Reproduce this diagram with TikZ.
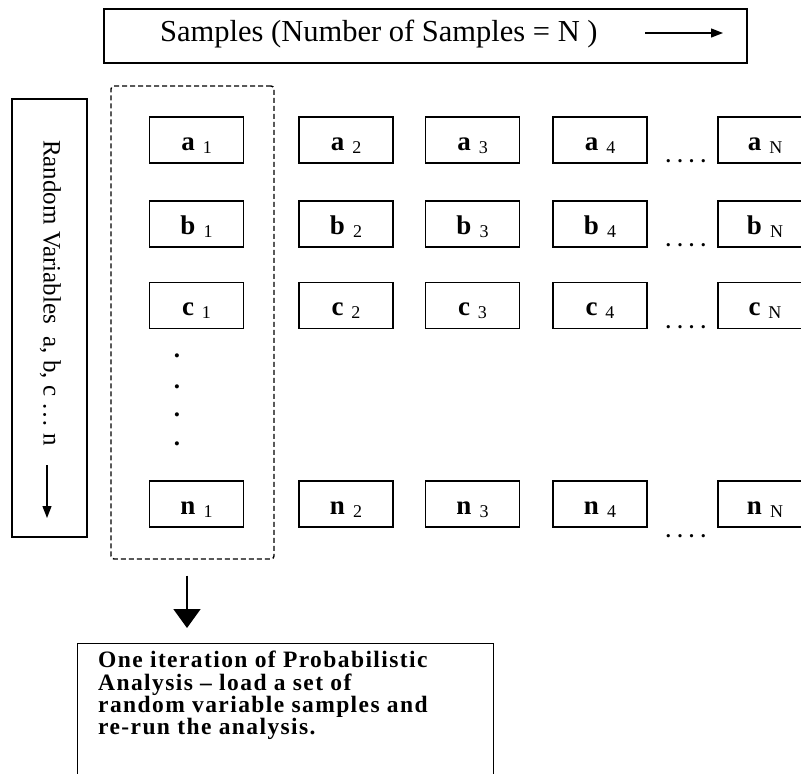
\documentclass[tikz,border=0pt]{standalone}
\usepackage{fontspec}
\setmainfont{Liberation Serif}
\usetikzlibrary{arrows.meta,positioning}

% sample label: bold letter with a small index beside it
\newcommand{\smp}[2]{\textbf{#1}\hspace{8pt}\raisebox{-3pt}{\fontsize{18}{18}\selectfont #2}}

\begin{document}
\begin{tikzpicture}[x=1pt, y=-1pt,
    cell/.style={draw, line width=1.4pt, minimum width=94pt, minimum height=46pt, inner sep=0pt, text height=20pt, text depth=0pt, font=\fontsize{27}{27}\selectfont},
    hdots/.style={anchor=base west, inner sep=0pt, font=\fontsize{20}{20}\selectfont\bfseries},
    vdot/.style={anchor=base, inner sep=0pt, font=\fontsize{25}{25}\selectfont\bfseries},
    plainbox/.style={draw, line width=1.4pt, inner sep=0pt},
    thinarrow/.style={-{Triangle[length=12pt, width=9pt]}, line width=1.3pt},
    bigarrow/.style={-{Triangle[length=19pt, width=27pt]}, line width=1.8pt}]

    \useasboundingbox (0,0) rectangle (801,774);
    \clip (0,0) rectangle (801,774);

    % title bar
    \node (head) [plainbox, minimum width=643pt, minimum height=54pt] at (425.5,36) {};
    \node (headtext) [anchor=base west, inner sep=0pt, font=\fontsize{30.5}{30}\selectfont] at (160,41) {Samples (Number of Samples = N )};
    \coordinate (hfrom) at (645,33);
    \coordinate (hto) at (723,33);
    \draw[thinarrow] (hfrom) -- (hto);

    % side bar
    \node (side) [plainbox, minimum width=75pt, minimum height=438pt] at (49.5,318) {};
    \node (sidetext) [rotate=-90, anchor=mid west, inner sep=0pt, font=\fontsize{25}{25}\selectfont] at (46,140) {Random Variables\ \ a, b, c … n};
    \coordinate (sfrom) at (47,465);
    \coordinate (sto) at (47,518);
    \draw[thinarrow] (sfrom) -- (sto);

    % one iteration = first column
    \node (iter) [draw, dash pattern=on 5pt off 3pt, rounded corners=3pt, line width=1.4pt, minimum width=163pt, minimum height=473pt] at (192.5,322.5) {};

    \node (a1) [cell] at (196.5,140) {\smp{a}{1}};
    \node (a2) [cell] at (346,140) {\smp{a}{2}};
    \node (a3) [cell] at (472.5,140) {\smp{a}{3}};
    \node (a4) [cell] at (600,140) {\smp{a}{4}};
    \node (aN) [cell] at (765,140) {\smp{a}{N}};
    \node (dotsa) [hdots] at ([xshift=18pt, yshift=1pt]a4.south east) {. . . .};

    \node (b1) [cell] at (196.5,224) {\smp{b}{1}};
    \node (b2) [cell] at (346,224) {\smp{b}{2}};
    \node (b3) [cell] at (472.5,224) {\smp{b}{3}};
    \node (b4) [cell] at (600,224) {\smp{b}{4}};
    \node (bN) [cell] at (765,224) {\smp{b}{N}};
    \node (dotsb) [hdots] at ([xshift=18pt, yshift=1pt]b4.south east) {. . . .};

    \node (c1) [cell] at (196.5,305.5) {\smp{c}{1}};
    \node (c2) [cell] at (346,305.5) {\smp{c}{2}};
    \node (c3) [cell] at (472.5,305.5) {\smp{c}{3}};
    \node (c4) [cell] at (600,305.5) {\smp{c}{4}};
    \node (cN) [cell] at (765,305.5) {\smp{c}{N}};
    \node (dotsc) [hdots] at ([xshift=18pt, yshift=1pt]c4.south east) {. . . .};

    \node (vdot1) [vdot] at (177,357) {.};
    \node (vdot2) [vdot] at (177,388) {.};
    \node (vdot3) [vdot] at (177,416) {.};
    \node (vdot4) [vdot] at (177,445) {.};

    \node (n1) [cell] at (196.5,504) {\smp{n}{1}};
    \node (n2) [cell] at (346,504) {\smp{n}{2}};
    \node (n3) [cell] at (472.5,504) {\smp{n}{3}};
    \node (n4) [cell] at (600,504) {\smp{n}{4}};
    \node (nN) [cell] at (765,504) {\smp{n}{N}};
    \node (dotsn) [hdots] at ([xshift=18pt, yshift=-10pt]n4.south east) {. . . .};

    % what one column feeds into
    \node (result) [plainbox, anchor=north west, minimum width=416pt, minimum height=160pt] at (77,643) {};
    \node (resulttext) [anchor=north west, inner sep=0pt, align=left, font={\fontsize{23.5}{22.3}\selectfont\bfseries\addfontfeatures{LetterSpace=6}\lineskiplimit=-50pt}] at (98,651) {One iteration of Probabilistic\\ Analysis -- load a set of\\ random variable samples and\\ re-run the analysis.};

    \draw[bigarrow] ([xshift=-5.5pt, yshift=-16pt]iter.south) -- ([xshift=-5.5pt, yshift=15pt]iter.south |- result.north);

\end{tikzpicture}
\end{document}
